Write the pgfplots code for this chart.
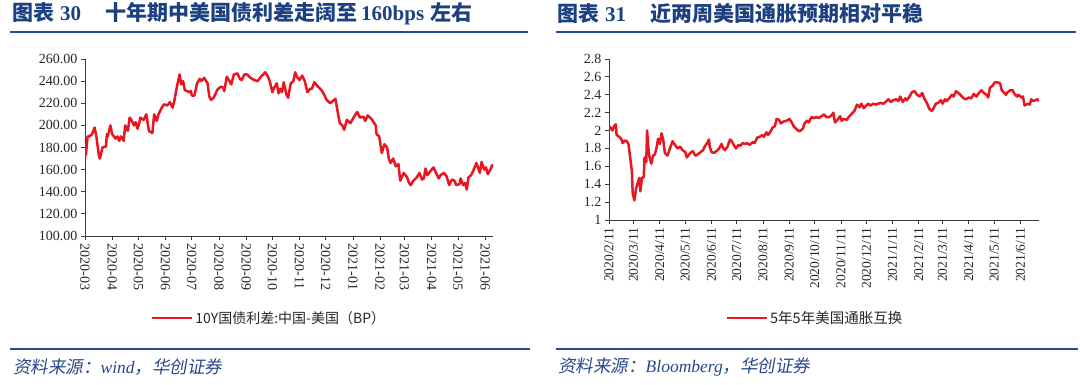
\documentclass[border=0pt]{standalone}
\usepackage{fontspec}
\usepackage{pgfplots}
\pgfplotsset{compat=1.18}
\setmainfont{Liberation Serif}
\newfontfamily\cjk{Noto Sans CJK SC}
\newfontfamily\cjkit[FakeSlant=0.18]{Noto Sans CJK SC}
\definecolor{cred}{RGB}{232,22,32}
\definecolor{tblue}{RGB}{28,64,128}
\definecolor{lblue}{RGB}{38,78,148}
\definecolor{sblue}{RGB}{40,72,140}
\definecolor{axgray}{RGB}{60,60,60}
\begin{document}
\begin{tikzpicture}
\path[use as bounding box] (0pt,0pt) rectangle (1080pt,385pt);
% titles
\node[anchor=west,inner sep=0pt,text=tblue] at (12pt,371pt)
 {\cjk\bfseries\fontsize{21}{23}\selectfont 图表\hspace{6pt}{\rmfamily\bfseries 30}\hspace{24pt}十年期中美国债利差走阔至\hspace{4pt}{\rmfamily\bfseries 160bps}\hspace{6pt}左右};
\node[anchor=west,inner sep=0pt,text=tblue] at (557pt,371pt)
 {\cjk\bfseries\fontsize{21}{23}\selectfont 图表\hspace{6pt}{\rmfamily\bfseries 31}\hspace{24pt}近两周美国通胀预期相对平稳};
\draw[lblue,line width=2pt] (10pt,352.5pt) -- (528pt,352.5pt);
\draw[lblue,line width=2pt] (556pt,352.5pt) -- (1076pt,352.5pt);
% source
\draw[lblue,line width=2pt] (10pt,36pt) -- (530pt,36pt);
\draw[lblue,line width=2pt] (556pt,36pt) -- (1078pt,36pt);
\node[anchor=west,inner sep=0pt,text=sblue] at (13pt,18pt)
 {\cjkit\fontsize{17.5}{19}\selectfont 资料来源：{\rmfamily\itshape wind}，华创证券};
\node[anchor=west,inner sep=0pt,text=sblue] at (558pt,18pt)
 {\cjkit\fontsize{17.5}{19}\selectfont 资料来源：{\rmfamily\itshape Bloomberg}，华创证券};

% left chart
\begin{axis}[
 at={(85pt,149pt)}, anchor=south west,
 scale only axis, width=408pt, height=177pt,
 xmin=0, xmax=466, ymin=100, ymax=260,
 axis x line*=bottom, axis y line*=left,
 axis line style={axgray,line width=0.8pt},
 tick style={axgray,line width=0.8pt},
 tick align=outside, major tick length=4pt,
 xtick={0,31,61,92,122,153,184,214,245,275,306,337,365,396,426,457},
 xticklabels={2020-03,2020-04,2020-05,2020-06,2020-07,2020-08,2020-09,2020-10,2020-11,2020-12,2021-01,2021-02,2021-03,2021-04,2021-05,2021-06},
 xticklabel style={rotate=-90,anchor=west,font=\fontsize{14}{16}\selectfont,text=black!85},
 ytick={100,120,140,160,180,200,220,240,260},
 yticklabel style={font=\fontsize{14}{16}\selectfont,text=black!85,
   /pgf/number format/.cd,fixed,fixed zerofill,precision=2,1000 sep={}},
 /pgf/number format/assume math mode=true,
 legend style={at={(0.451,-0.463)},anchor=center,draw=none,fill=none,
   font=\cjk\fontsize{14}{16}\selectfont,text=black!85},
 legend image code/.code={\draw[#1,line width=2.5pt](0pt,0pt)--(40pt,0pt);},
]
\addplot[cred,line width=2.5pt,line join=round] coordinates {
(0,175)(1,173)(3,190)(5,190)(8,192)(11,198)(13,190)(15,178)(16,172)(17,170)(20,180)(24,181)(25,192)(26,190)(29,200)(31,192)(35,188)(37,190)(39,186)(41,190)(43,188)(44,186)(46,200)(49,195)(51,207)(53,205)(56,200)(58,203)(60,197)(62,202)(63,207)(67,205)(70,210)(73,195)(77,193)(79,210)(82,204)(84,210)(87,215)(90,219)(94,218)(97,221)(100,216)(102,222)(105,235)(108,246)(110,237)(112,240)(114,232)(119,230)(121,231)(122,227)(125,227)(128,238)(131,242)(133,240)(136,243)(140,238)(142,226)(144,223)(147,225)(151,232)(155,235)(158,234)(159,231)(162,244)(165,240)(167,237)(170,246)(174,247)(177,242)(179,241)(182,246)(185,246)(189,243)(193,241)(197,240)(201,244)(206,248)(209,244)(211,240)(214,230)(216,234)(219,238)(221,229)(223,233)(225,230)(227,239)(230,228)(232,225)(235,238)(238,240)(240,248)(242,244)(245,241)(248,245)(251,240)(254,230)(257,233)(259,233)(262,239)(266,235)(270,232)(273,228)(276,223)(280,220)(286,224)(288,215)(291,202)(294,200)(296,196)(299,205)(303,202)(309,210)(311,212)(314,207)(318,208)(320,204)(323,209)(328,205)(332,200)(333,192)(336,190)(339,175)(342,183)(345,180)(347,170)(349,166)(352,170)(355,163)(358,165)(360,150)(364,157)(368,153)(370,148)(372,146)(375,150)(379,153)(382,157)(385,151)(387,152)(389,161)(391,155)(394,158)(398,162)(401,157)(404,152)(406,155)(410,157)(413,154)(416,146)(419,151)(422,150)(424,146)(428,147)(429,152)(432,146)(434,148)(436,142)(438,153)(441,155)(444,160)(447,166)(448,164)(451,157)(453,167)(456,160)(458,162)(460,156)(463,160)(465,164)(466,162)
};
\addlegendentry{10Y国债利差:中国-美国（BP）}
\end{axis}

% right chart
\begin{axis}[
 at={(609pt,165pt)}, anchor=south west,
 scale only axis, width=430pt, height=161pt,
 xmin=0, xmax=508, ymin=1, ymax=2.8,
 axis x line*=bottom, axis y line*=left,
 axis line style={axgray,line width=0.8pt},
 tick style={axgray,line width=0.8pt},
 tick align=outside, major tick length=4pt,
 xtick={0,29,60,90,121,151,182,213,243,274,304,335,366,394,425,455,486},
 xticklabels={2020/2/11,2020/3/11,2020/4/11,2020/5/11,2020/6/11,2020/7/11,2020/8/11,2020/9/11,2020/10/11,2020/11/11,2020/12/11,2021/1/11,2021/2/11,2021/3/11,2021/4/11,2021/5/11,2021/6/11},
 xticklabel style={rotate=90,anchor=east,font=\fontsize{13.5}{15}\selectfont,text=black!85},
 ytick={1,1.2,1.4,1.6,1.8,2,2.2,2.4,2.6,2.8},
 yticklabels={1,1.2,1.4,1.6,1.8,2,2.2,2.4,2.6,2.8},
 yticklabel style={font=\fontsize{14}{16}\selectfont,text=black!85},
 legend style={at={(0.479,-0.609)},anchor=center,draw=none,fill=none,
   font=\cjk\fontsize{14.5}{16}\selectfont,text=black!85},
 legend image code/.code={\draw[#1,line width=2.5pt](0pt,0pt)--(40pt,0pt);},
]
\addplot[cred,line width=2.5pt,line join=round] coordinates {
(0,2.05)(2,2.03)(4,2.00)(6,2.05)(8,2.07)(9,1.95)(12,1.93)(15,1.90)(16,1.86)(19,1.89)(21,1.88)(23,1.85)(25,1.70)(27,1.55)(28,1.30)(30,1.22)(32,1.35)(35,1.45)(36,1.47)(37,1.32)(39,1.47)(41,1.48)(42,1.70)(44,1.65)(45,2.00)(47,1.75)(48,1.70)(50,1.63)(52,1.72)(54,1.73)(56,1.80)(58,1.91)(60,1.85)(62,1.97)(64,1.90)(66,1.75)(69,1.72)(72,1.80)(75,1.88)(78,1.84)(81,1.80)(84,1.82)(87,1.78)(90,1.76)(92,1.70)(96,1.75)(99,1.77)(102,1.72)(104,1.73)(107,1.75)(111,1.78)(113,1.82)(116,1.86)(118,1.90)(119,1.82)(121,1.76)(124,1.75)(127,1.77)(130,1.80)(133,1.85)(135,1.80)(137,1.78)(140,1.82)(143,1.90)(145,1.88)(148,1.83)(150,1.80)(153,1.84)(155,1.83)(158,1.86)(161,1.85)(163,1.86)(166,1.84)(170,1.87)(172,1.86)(175,1.92)(178,1.93)(181,1.95)(183,1.93)(186,1.98)(188,1.95)(191,1.99)(193,2.03)(196,2.05)(198,2.13)(201,2.12)(203,2.08)(206,2.10)(210,2.11)(213,2.13)(216,2.09)(218,2.05)(222,2.01)(225,1.99)(229,2.02)(231,2.08)(234,2.11)(236,2.09)(239,2.15)(242,2.14)(245,2.15)(248,2.14)(251,2.16)(254,2.18)(257,2.15)(260,2.15)(263,2.17)(265,2.20)(267,2.09)(270,2.12)(273,2.16)(275,2.11)(277,2.13)(281,2.12)(283,2.15)(285,2.17)(288,2.20)(290,2.22)(293,2.29)(296,2.26)(298,2.30)(301,2.25)(303,2.27)(306,2.30)(309,2.28)(312,2.30)(315,2.29)(318,2.30)(321,2.31)(324,2.30)(327,2.32)(330,2.35)(333,2.32)(336,2.34)(339,2.35)(342,2.33)(344,2.38)(347,2.32)(350,2.36)(352,2.34)(355,2.38)(358,2.43)(361,2.44)(364,2.40)(367,2.38)(370,2.42)(373,2.35)(376,2.30)(378,2.25)(381,2.22)(383,2.24)(386,2.30)(389,2.31)(392,2.34)(394,2.30)(397,2.35)(399,2.33)(402,2.36)(405,2.40)(407,2.38)(410,2.44)(414,2.41)(416,2.39)(419,2.36)(422,2.35)(425,2.37)(428,2.36)(431,2.41)(434,2.38)(437,2.42)(440,2.45)(443,2.42)(446,2.40)(448,2.37)(450,2.48)(453,2.50)(456,2.54)(458,2.54)(462,2.53)(464,2.45)(467,2.42)(469,2.40)(471,2.43)(474,2.45)(477,2.45)(479,2.41)(482,2.38)(484,2.40)(487,2.37)(489,2.38)(491,2.28)(493,2.29)(495,2.30)(497,2.29)(499,2.35)(501,2.33)(504,2.34)(506,2.35)(508,2.33)
};
\addlegendentry{5年5年美国通胀互换}
\end{axis}
\end{tikzpicture}
\end{document}
